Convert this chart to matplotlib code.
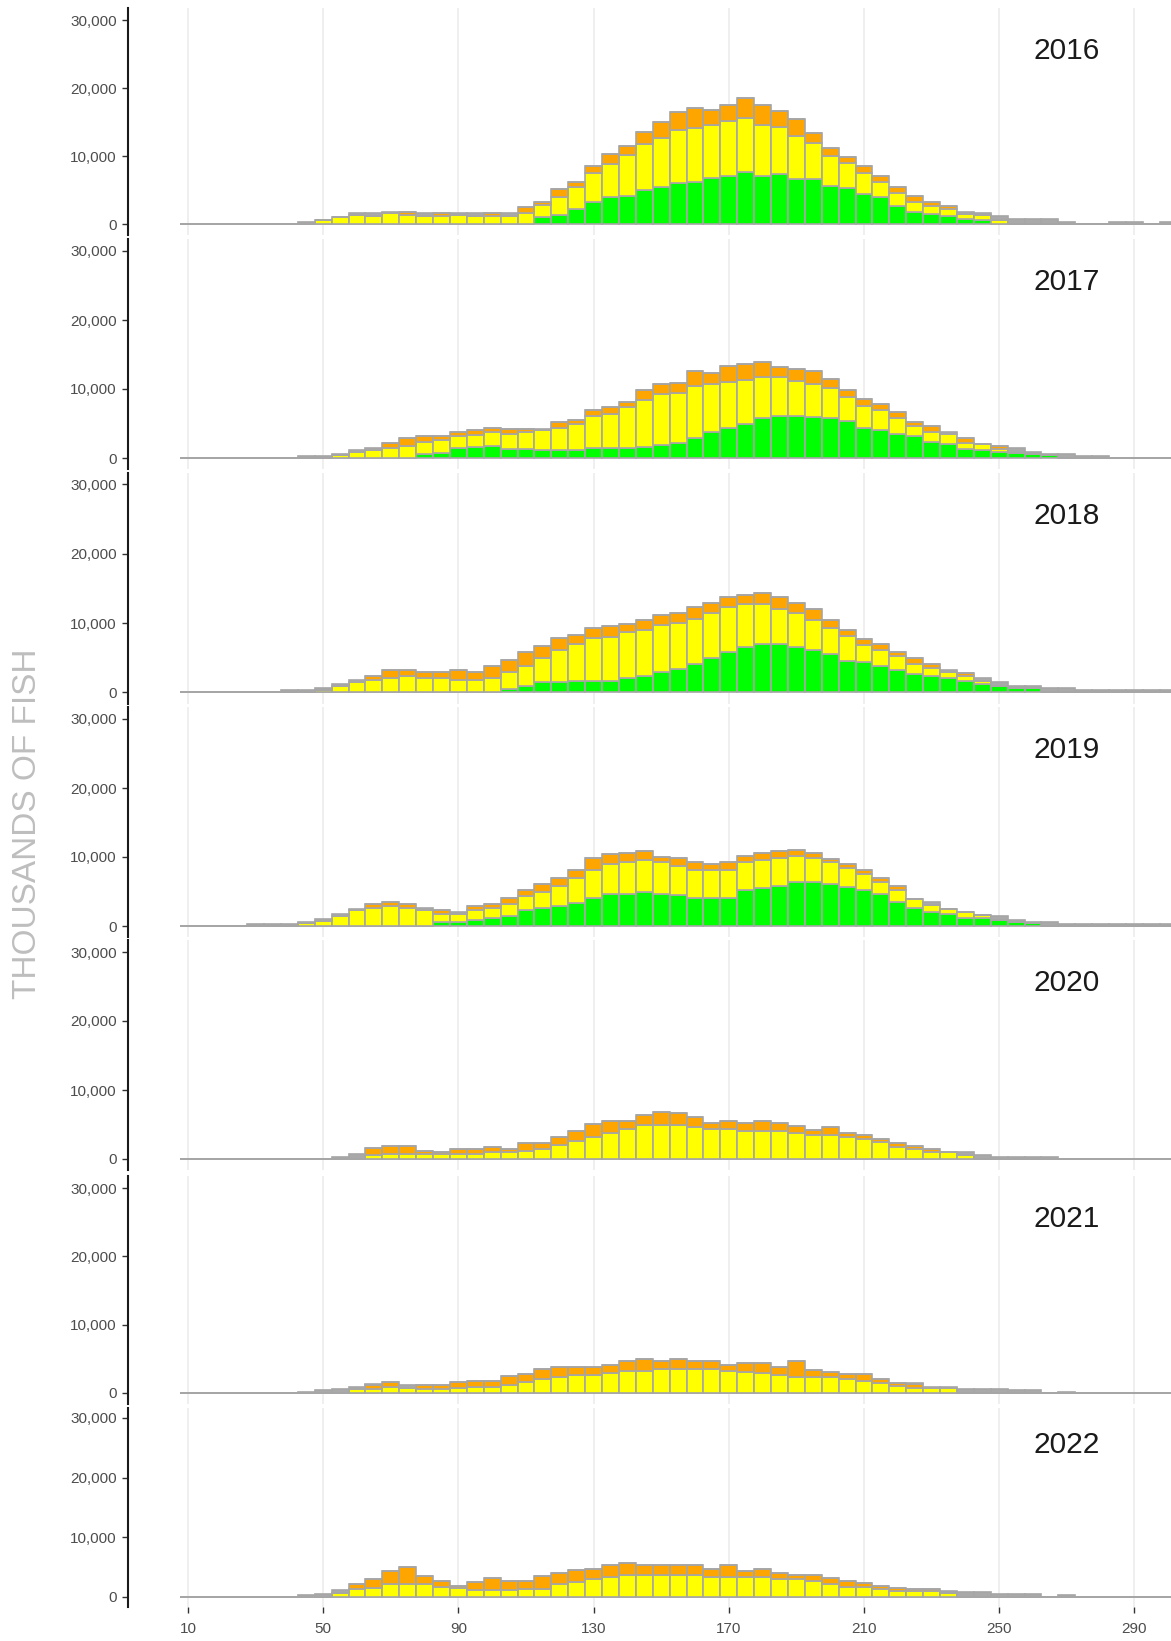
import numpy as np
import matplotlib
matplotlib.use("Agg")
import matplotlib.pyplot as plt

# ---------------- data (thousands of fish per 5 mm length bin) ----------------
lengths = list(range(10, 305, 5))          # bin centres 10 .. 300
years = ["2016", "2017", "2018", "2019", "2020", "2021", "2022"]
x_ticks = [10, 50, 90, 130, 170, 210, 250, 290]
y_ticks = [0, 10000, 20000, 30000]

# 2016
green_2016 = [0, 0, 0, 0, 0, 0, 0, 0, 0, 0,
              0, 0, 0, 0, 0, 0, 0, 0, 0, 0,
              0, 980, 1330, 2210, 3290, 3920, 4170, 5000, 5390, 5980,
              6230, 6770, 7010, 7600, 7110, 7350, 6620, 6620, 5640, 5250,
              4410, 3920, 2700, 1720, 1470, 1230, 740, 640, 0, 0,
              0, 0, 0, 0, 0, 0, 0, 0, 0]
yellow_2016 = [0, 0, 0, 0, 0, 0, 0, 0, 640, 980,
               1330, 1250, 1570, 1330, 1250, 1120, 1330, 1230, 1120, 1230,
               1600, 1800, 2690, 3160, 4150, 4900, 5930, 6750, 7200, 7850,
               7850, 7750, 8090, 7990, 7400, 6850, 6370, 5300, 4350, 3680,
               3040, 2300, 1860, 1570, 1230, 930, 790, 640, 590, 0,
               0, 0, 0, 0, 0, 0, 0, 0, 0]
orange_2016 = [0, 0, 0, 0, 0, 0, 0, 0, 0, 0,
               0, 0, 0, 450, 0, 450, 0, 0, 450, 0,
               850, 500, 1130, 850, 1130, 1470, 1400, 1810, 2450, 2630,
               2950, 2240, 2350, 3010, 2990, 2350, 2450, 1410, 1230, 880,
               1130, 880, 830, 880, 580, 540, 0, 0, 0, 0,
               0, 0, 0, 0, 0, 0, 0, 0, 0]
grey_2016 = [0, 0, 0, 0, 0, 0, 0, 300, 0, 0,
             240, 320, 240, 0, 320, 0, 240, 340, 0, 340,
             0, 0, 0, 0, 0, 0, 0, 0, 0, 0,
             0, 0, 0, 0, 0, 0, 0, 0, 0, 0,
             0, 0, 0, 0, 0, 0, 280, 290, 635, 690,
             690, 690, 340, 0, 0, 340, 340, 0, 340]

# 2017
green_2017 = [0, 0, 0, 0, 0, 0, 0, 0, 0, 0,
              0, 0, 0, 0, 540, 780, 1450, 1550, 1700, 1360,
              1360, 1120, 1120, 1120, 1450, 1450, 1450, 1600, 1840, 2180,
              2900, 3770, 4350, 4980, 5800, 6090, 6090, 5990, 5800, 5320,
              4400, 4110, 3530, 3240, 2320, 1990, 1360, 1120, 870, 780,
              540, 480, 0, 0, 0, 0, 0, 0, 0]
yellow_2017 = [0, 0, 0, 0, 0, 0, 0, 0, 0, 380,
               870, 1160, 1450, 1700, 1790, 1840, 1700, 1750, 2080, 2180,
               2420, 2900, 3250, 3800, 4590, 4930, 5950, 6770, 7480, 7300,
               7490, 7000, 6670, 6280, 5990, 5700, 5120, 4740, 4300, 3580,
               3140, 2810, 2280, 1360, 1450, 1550, 870, 870, 440, 0,
               0, 0, 0, 0, 0, 0, 0, 0, 0]
orange_2017 = [0, 0, 0, 0, 0, 0, 0, 0, 0, 0,
               0, 0, 780, 1200, 810, 540, 630, 800, 580, 730,
               490, 0, 830, 630, 920, 1070, 730, 1500, 1450, 1450,
               2280, 1600, 2320, 2320, 2080, 1410, 1700, 1940, 1360, 920,
               1070, 870, 830, 580, 870, 0, 680, 0, 380, 0,
               0, 0, 0, 0, 0, 0, 0, 0, 0]
grey_2017 = [0, 0, 0, 0, 0, 0, 0, 290, 290, 150,
             240, 290, 0, 0, 0, 0, 0, 0, 0, 0,
             0, 230, 0, 0, 0, 0, 0, 0, 0, 0,
             0, 0, 0, 0, 0, 0, 0, 0, 0, 0,
             0, 0, 0, 0, 0, 230, 0, 0, 0, 670,
             330, 150, 530, 340, 340, 0, 0, 0, 0]

# 2018
green_2018 = [0, 0, 0, 0, 0, 0, 0, 0, 0, 0,
              0, 0, 0, 0, 0, 0, 0, 0, 0, 490,
              920, 1490, 1490, 1690, 1690, 1690, 2020, 2310, 2890, 3460,
              4040, 4950, 5810, 6630, 7010, 7010, 6630, 6100, 5530, 4610,
              4370, 3750, 3270, 2740, 2360, 2020, 1690, 1210, 870, 580,
              580, 0, 0, 0, 0, 0, 0, 0, 0]
yellow_2018 = [0, 0, 0, 0, 0, 0, 0, 0, 430, 920,
               1490, 1780, 2120, 2360, 2120, 2120, 1780, 1780, 2020, 2410,
               2890, 3460, 4570, 5290, 6150, 6340, 6730, 6640, 6820, 6630,
               6580, 6580, 6530, 6100, 5720, 5090, 4900, 4370, 3750, 3510,
               2500, 2410, 1930, 1350, 1110, 970, 630, 390, 0, 0,
               0, 0, 0, 0, 0, 0, 0, 0, 0]
orange_2018 = [0, 0, 0, 0, 0, 0, 0, 0, 0, 0,
               0, 630, 1110, 870, 770, 770, 1450, 1110, 1780, 1780,
               2070, 1690, 1780, 1350, 1450, 1540, 1110, 1450, 1450, 1350,
               1740, 1450, 1450, 1400, 1590, 1690, 1350, 1590, 1110, 870,
               820, 820, 630, 820, 630, 0, 490, 0, 0, 0,
               0, 0, 0, 0, 0, 0, 0, 0, 0]
grey_2018 = [0, 0, 0, 0, 0, 0, 340, 340, 240, 280,
             290, 0, 0, 0, 0, 0, 0, 0, 0, 0,
             0, 0, 0, 0, 0, 0, 0, 0, 0, 0,
             0, 0, 0, 0, 0, 0, 0, 0, 0, 0,
             0, 0, 0, 0, 0, 230, 0, 420, 670, 330,
             330, 670, 670, 340, 340, 340, 340, 340, 340]

# 2019
green_2019 = [0, 0, 0, 0, 0, 0, 0, 0, 0, 0,
              0, 0, 0, 0, 0, 540, 630, 870, 1120, 1450,
              2320, 2570, 2900, 3390, 4010, 4590, 4590, 4930, 4590, 4500,
              4010, 4010, 4010, 5220, 5460, 5750, 6430, 6430, 6090, 5700,
              5220, 4640, 3480, 2660, 2030, 1700, 1210, 1210, 920, 540,
              480, 0, 0, 0, 0, 0, 0, 0, 0]
yellow_2019 = [0, 0, 0, 0, 0, 0, 0, 390, 720, 1450,
               2270, 2610, 2900, 2610, 2370, 1210, 1060, 1450, 1500, 1740,
               1990, 2370, 2900, 3580, 4110, 4400, 4640, 4640, 4640, 4210,
               4110, 4110, 4110, 4060, 4160, 4060, 3720, 3430, 3190, 2710,
               2320, 1700, 1700, 1260, 1070, 830, 870, 440, 0, 0,
               0, 0, 0, 0, 0, 0, 0, 0, 0]
orange_2019 = [0, 0, 0, 0, 0, 0, 0, 0, 0, 0,
               0, 540, 630, 540, 0, 580, 0, 580, 540, 830,
               870, 1120, 1160, 1120, 1700, 1450, 1360, 1360, 830, 1210,
               1120, 830, 1120, 830, 1020, 1070, 830, 780, 490, 540,
               580, 580, 630, 0, 0, 0, 0, 0, 0, 0,
               0, 0, 0, 0, 0, 0, 0, 0, 0]
grey_2019 = [0, 0, 0, 0, 290, 290, 290, 240, 250, 290,
             150, 0, 0, 0, 290, 0, 390, 0, 0, 0,
             0, 0, 0, 0, 0, 0, 0, 0, 0, 0,
             0, 0, 0, 0, 0, 0, 0, 0, 0, 0,
             0, 0, 0, 0, 430, 0, 0, 0, 580, 330,
             150, 530, 290, 290, 290, 290, 290, 290, 290]

# 2020 (no green fish)
green_2020 = [0] * 59
yellow_2020 = [0, 0, 0, 0, 0, 0, 0, 0, 0, 0,
               0, 630, 680, 680, 680, 680, 680, 680, 970, 970,
               1210, 1500, 2030, 2660, 3190, 3810, 4340, 4970, 4970, 4970,
               4630, 4340, 4340, 4050, 4050, 4010, 3770, 3520, 3480, 3190,
               2900, 2420, 1740, 1450, 970, 960, 630, 0, 0, 0,
               0, 0, 0, 0, 0, 0, 0, 0, 0]
orange_2020 = [0, 0, 0, 0, 0, 0, 0, 0, 0, 0,
               0, 920, 1150, 1150, 490, 390, 730, 730, 780, 490,
               1160, 870, 1160, 1450, 1840, 1690, 1210, 1450, 1780, 1690,
               1500, 870, 1210, 1110, 1450, 1210, 1070, 730, 1160, 540,
               630, 490, 540, 490, 490, 0, 0, 0, 0, 0,
               0, 0, 0, 0, 0, 0, 0, 0, 0]
grey_2020 = [0, 0, 0, 0, 0, 0, 0, 0, 0, 340,
             720, 0, 0, 0, 0, 0, 0, 0, 0, 0,
             0, 0, 0, 0, 0, 0, 0, 0, 0, 0,
             0, 0, 0, 0, 0, 0, 0, 0, 0, 0,
             0, 0, 0, 0, 0, 0, 330, 630, 340, 340,
             340, 340, 0, 0, 0, 0, 0, 0, 0]

# 2021 (no green fish)
green_2021 = [0] * 59
yellow_2021 = [0, 0, 0, 0, 0, 0, 0, 0, 0, 0,
               540, 640, 830, 780, 640, 640, 690, 930, 930, 1170,
               1570, 2050, 2350, 2640, 2640, 2880, 3180, 3270, 3470, 3470,
               3470, 3470, 3270, 3130, 2880, 2590, 2300, 2300, 2300, 2050,
               1760, 1420, 1030, 780, 690, 690, 0, 0, 0, 0,
               0, 0, 0, 0, 0, 0, 0, 0, 0]
orange_2021 = [0, 0, 0, 0, 0, 0, 0, 0, 0, 0,
               0, 490, 730, 0, 540, 540, 870, 830, 830, 1270,
               1160, 1420, 1470, 1130, 1220, 1220, 1520, 1710, 1170, 1520,
               1170, 1170, 830, 1270, 1520, 1170, 2400, 1080, 830, 680,
               970, 640, 480, 540, 0, 0, 0, 0, 0, 0,
               0, 0, 0, 0, 0, 0, 0, 0, 0]
grey_2021 = [0, 0, 0, 0, 0, 0, 0, 200, 390, 630,
             390, 140, 0, 440, 0, 0, 0, 0, 0, 0,
             0, 0, 0, 0, 0, 0, 0, 0, 0, 0,
             0, 0, 0, 0, 0, 0, 0, 0, 0, 0,
             0, 0, 0, 190, 190, 190, 630, 630, 630, 390,
             390, 0, 200, 0, 0, 0, 0, 0, 0]

# 2022 (no green fish)
green_2022 = [0] * 59
yellow_2022 = [0, 0, 0, 0, 0, 0, 0, 0, 0, 730,
               1280, 1560, 2120, 2120, 2120, 1730, 1560, 1170, 1170, 1170,
               1390, 1390, 2120, 2500, 2950, 3340, 3620, 3620, 3620, 3620,
               3620, 3340, 3340, 3340, 3340, 3060, 3060, 2670, 2120, 1730,
               1730, 1280, 1000, 1000, 1000, 730, 0, 0, 0, 0,
               0, 0, 0, 0, 0, 0, 0, 0, 0]
orange_2022 = [0, 0, 0, 0, 0, 0, 0, 0, 0, 0,
               830, 1500, 2230, 2890, 1340, 890, 220, 1280, 1950, 1450,
               1280, 2060, 1950, 1950, 1780, 2060, 2120, 1670, 1670, 1670,
               1670, 1280, 2060, 1000, 1390, 1000, 670, 1060, 1110, 1000,
               610, 500, 560, 390, 390, 0, 0, 0, 0, 0,
               0, 0, 0, 0, 0, 0, 0, 0, 0]
grey_2022 = [0, 0, 0, 0, 0, 0, 0, 390, 560, 380,
             0, 0, 0, 0, 0, 0, 0, 0, 0, 0,
             0, 0, 0, 0, 0, 0, 0, 0, 0, 0,
             0, 0, 0, 0, 0, 0, 0, 0, 0, 0,
             0, 0, 0, 0, 0, 270, 830, 830, 440, 440,
             440, 0, 280, 0, 0, 0, 0, 0, 0]

greens = [green_2016, green_2017, green_2018, green_2019, green_2020, green_2021, green_2022]
yellows = [yellow_2016, yellow_2017, yellow_2018, yellow_2019, yellow_2020, yellow_2021, yellow_2022]
oranges = [orange_2016, orange_2017, orange_2018, orange_2019, orange_2020, orange_2021, orange_2022]
greys = [grey_2016, grey_2017, grey_2018, grey_2019, grey_2020, grey_2021, grey_2022]

# ---------------- layout ----------------
W, H = 1171, 1641
plt.rcParams['font.family'] = ['Liberation Sans', 'DejaVu Sans']

fig = plt.figure(figsize=(W / 100, H / 100), dpi=100)

# pixel rows of the 30,000 and 0 ticks of each panel
panel_rows = [(20, 224), (251, 458), (484.5, 692.5), (719, 926),
              (952, 1159), (1188, 1393), (1418, 1597)]
y_lo, y_hi = -1600, 31700
px_per_mm = 3.38
x_lo = 10 - (188 - 128) / px_per_mm
x_hi = 10 + (W - 188) / px_per_mm

fills = ['#00FF00', '#FFFF00', '#FFA500', '#A9A9A9']
edge = '#A6A6A6'

for k, year in enumerate(years):
    y30, y0 = panel_rows[k]
    s = (y0 - y30) / 30000.0
    top = y30 - (y_hi - 30000) * s
    bot = y0 - y_lo * s
    ax = fig.add_axes([128 / W, 1 - bot / H, (W - 128) / W, (bot - top) / H])

    bottom = np.zeros(len(lengths))
    for series, col in zip([greens[k], yellows[k], oranges[k], greys[k]], fills):
        vals = np.array(series, dtype=float)
        ax.bar(lengths, vals, width=5, bottom=bottom, color=col,
               edgecolor=edge, linewidth=1.2, zorder=2)
        bottom += vals

    ax.set_xlim(x_lo, x_hi)
    ax.set_ylim(y_lo, y_hi)
    ax.set_xticks(x_ticks)
    ax.set_yticks(y_ticks)
    ax.set_yticklabels([f"{v:,}" for v in y_ticks])
    ax.grid(axis='x', color='#EBEBEB', linewidth=1.1, zorder=0)
    ax.set_axisbelow(True)

    for side in ['top', 'right', 'bottom']:
        ax.spines[side].set_visible(False)
    ax.spines['left'].set_linewidth(1.5)
    ax.spines['left'].set_color('#1A1A1A')

    ax.tick_params(axis='y', length=4, width=1.0, color='#333333',
                   labelsize=11, labelcolor='#4D4D4D', pad=4)
    if k == len(years) - 1:
        ax.tick_params(axis='x', length=4, width=1.0, color='#333333',
                       labelsize=11, labelcolor='#4D4D4D', pad=7)
    else:
        ax.tick_params(axis='x', length=0, labelbottom=False)

    ax.text(270, 25500, year, fontsize=21.5, color='#1A1A1A',
            ha='center', va='center')

fig.text(28 / W, 1 - 824 / H, 'THOUSANDS OF FISH', rotation=90,
         fontsize=24, color='#BEBEBE', ha='center', va='center')

fig.savefig('out.png', dpi=100)
